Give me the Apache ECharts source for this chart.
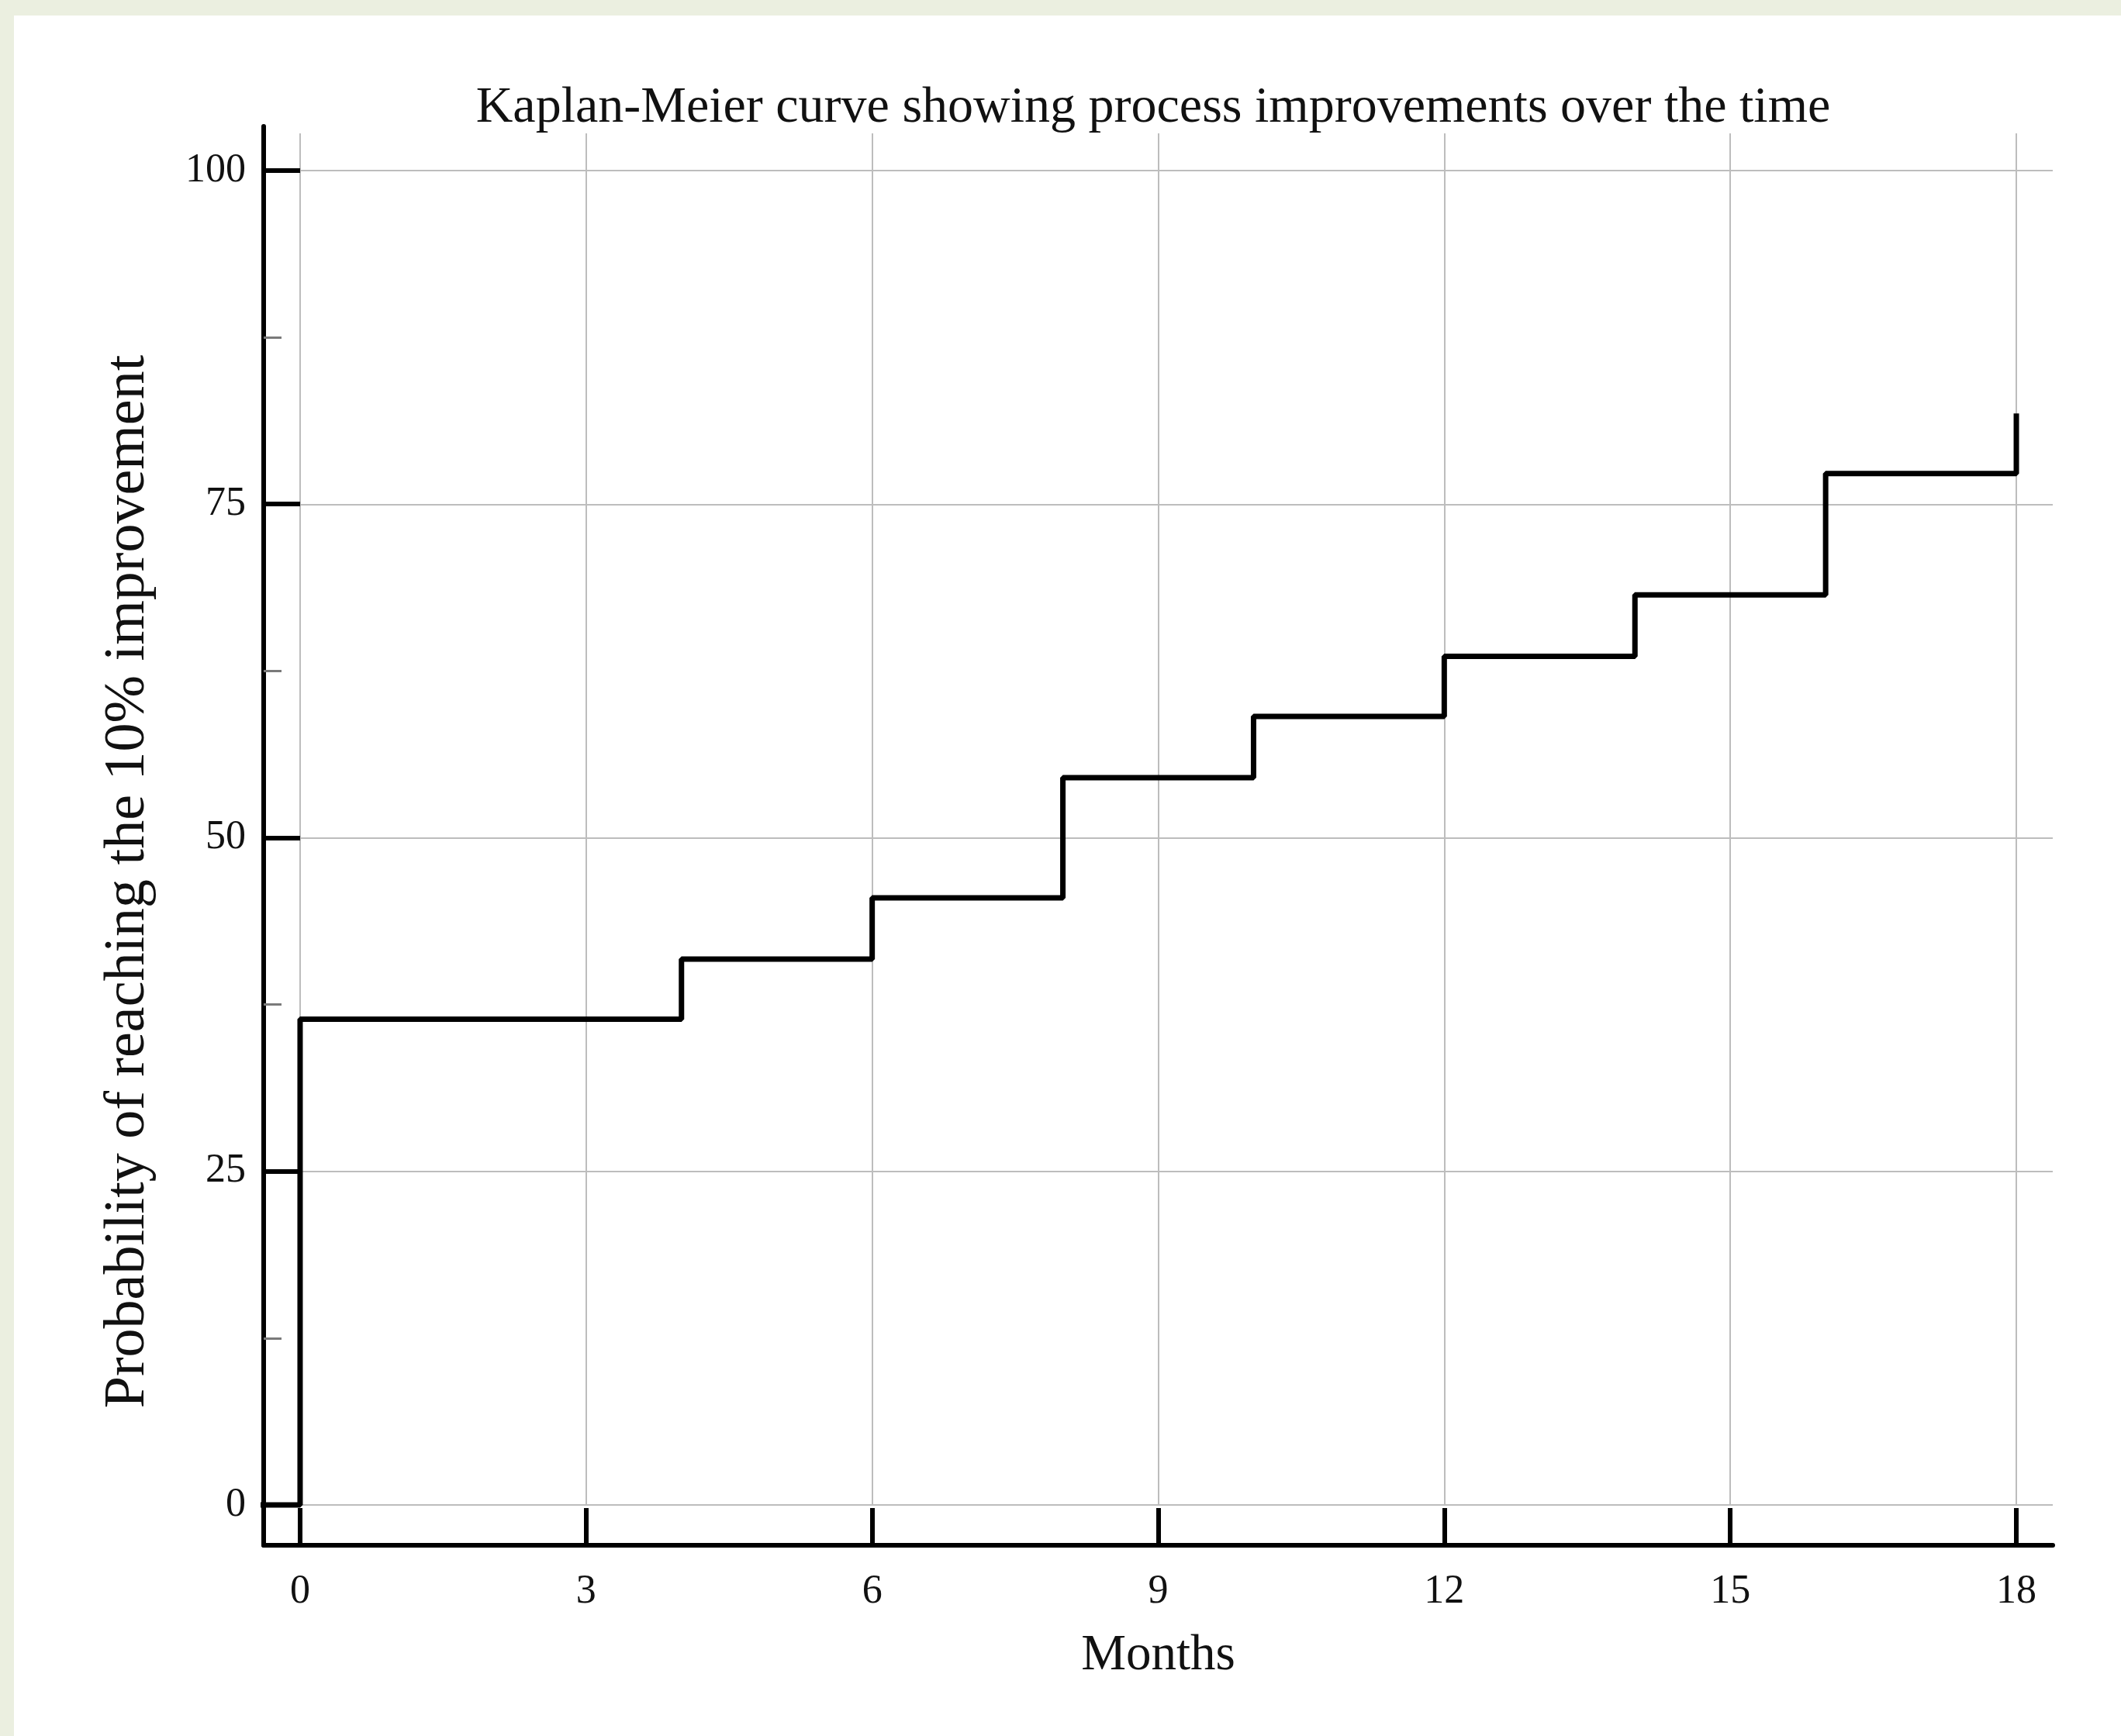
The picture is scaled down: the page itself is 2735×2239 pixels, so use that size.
<!DOCTYPE html>
<html>
<head>
<meta charset="utf-8">
<title>Kaplan-Meier curve</title>
<script src="https://cdn.jsdelivr.net/npm/echarts@6/dist/echarts.min.js"></script>
<style>
  html, body { margin: 0; padding: 0; background: #fff; }
  #chart { width: 2735px; height: 2239px; }
</style>
</head>
<body>
<div id="chart"></div>
<script>
// Kaplan-Meier: months vs probability (%) of reaching the 10% improvement
const months = [-0.5, 0, 4, 6, 8, 10, 12, 14, 16, 18];
const probability = [0, 36.4, 40.9, 45.5, 54.5, 59.1, 63.6, 68.2, 77.3, 81.8];

// ticks
const xTicks = [0, 3, 6, 9, 12, 15, 18];
const yTicks = [0, 25, 50, 75, 100];
const yMinorTicks = [12.5, 37.5, 62.5, 87.5];

const titleText = 'Kaplan-Meier curve showing process improvements over the time';
const xName = 'Months';
const yName = 'Probability of reaching the 10% improvement';

const font = 'Liberation Serif';
const gridColor = '#bdbdbd';

const chart = echarts.init(document.getElementById('chart'));

const option = {
  backgroundColor: '#fff',
  animation: false,
  graphic: [
    // light green frame around the figure
    { type: 'rect', left: 0, top: 0, shape: { width: 2735, height: 20 }, style: { fill: '#ebefe0' }, silent: true },
    { type: 'rect', left: 0, top: 0, shape: { width: 18, height: 2239 }, style: { fill: '#ebefe0' }, silent: true },
    {
      type: 'text',
      x: 1487,
      y: 140,
      style: {
        text: titleText,
        font: '66px "' + font + '"',
        fill: '#111',
        align: 'center',
        verticalAlign: 'middle',
      },
    },
    {
      type: 'text',
      x: 166,
      y: 1137,
      rotation: Math.PI / 2,
      style: {
        text: yName,
        font: '74px "' + font + '"',
        fill: '#111',
        align: 'center',
        verticalAlign: 'middle',
      },
    },
  ],
  grid: [
    // outer box: axis lines, ticks and labels
    { left: 340, right: 88, top: 163, bottom: 246 },
    // inner box: gridlines
    { left: 387, right: 88, top: 172, bottom: 298 },
  ],
  xAxis: [
    {
      gridIndex: 0,
      type: 'value',
      min: -0.382,
      max: 18.382,
      name: xName,
      nameLocation: 'middle',
      nameGap: 110,
      nameTextStyle: { fontFamily: font, fontSize: 65, color: '#111' },
      axisLine: { show: true, onZero: false, lineStyle: { color: '#000', width: 6 } },
      axisTick: {
        show: true,
        inside: true,
        length: 48,
        customValues: xTicks,
        lineStyle: { color: '#000', width: 6 },
      },
      axisLabel: {
        customValues: xTicks,
        margin: 34,
        fontFamily: font,
        fontSize: 52,
        lineHeight: 52,
        color: '#111',
      },
      splitLine: { show: false },
    },
    {
      gridIndex: 1,
      type: 'value',
      min: 0,
      max: 18.382,
      axisLine: { show: false },
      axisTick: { show: false, customValues: xTicks },
      axisLabel: { show: false, customValues: xTicks },
      splitLine: { show: true, lineStyle: { color: gridColor, width: 2 } },
    },
  ],
  yAxis: [
    {
      gridIndex: 0,
      type: 'value',
      position: 'left',
      min: -3.02,
      max: 103.31,
      axisLine: { show: true, onZero: false, lineStyle: { color: '#000', width: 6 } },
      axisTick: {
        show: true,
        inside: true,
        length: 47,
        customValues: yTicks,
        lineStyle: { color: '#000', width: 6 },
      },
      axisLabel: {
        customValues: yTicks,
        margin: 23,
        fontFamily: font,
        fontSize: 52,
        color: '#111',
      },
      splitLine: { show: false },
    },
    {
      // minor ticks
      gridIndex: 0,
      type: 'value',
      position: 'left',
      min: -3.02,
      max: 103.31,
      axisLine: { show: false, onZero: false },
      axisTick: {
        show: true,
        inside: true,
        length: 23,
        customValues: yMinorTicks,
        lineStyle: { color: '#7a7a7a', width: 3 },
      },
      axisLabel: { show: false, customValues: yMinorTicks },
      splitLine: { show: false },
    },
    {
      gridIndex: 1,
      type: 'value',
      min: 0,
      max: 102.79,
      axisLine: { show: false },
      axisTick: { show: false, customValues: yTicks },
      axisLabel: { show: false, customValues: yTicks },
      splitLine: { show: true, lineStyle: { color: gridColor, width: 2 } },
    },
  ],
  series: [
    {
      type: 'line',
      xAxisIndex: 0,
      yAxisIndex: 0,
      step: 'end',
      showSymbol: false,
      silent: true,
      z: 10,
      lineStyle: { color: '#000', width: 7 },
      data: months.map((m, i) => [m, probability[i]]),
    },
  ],
};

chart.setOption(option);
</script>
</body>
</html>
